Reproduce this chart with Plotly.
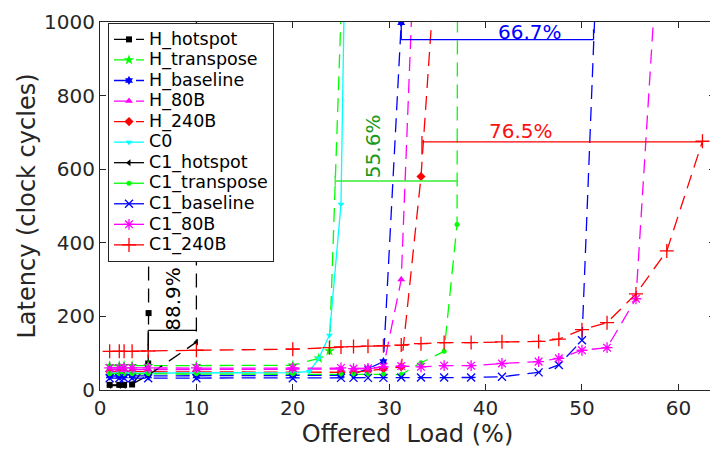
import plotly.graph_objects as go

# ---------------- data ----------------
h_hotspot_x = [1, 2, 2.5, 3.33, 5, 5.04, 5.1]
h_hotspot_y = [14, 14, 14, 15, 72, 209, 4000]

h_transpose_x = [1, 2, 2.5, 3.33, 5, 10, 20, 22.7, 23.8, 25]
h_transpose_y = [66, 66, 66, 66, 66, 66, 67, 86, 106, 1020]

h_baseline_x = [1, 2, 2.5, 3.33, 5, 10, 20, 25, 26.3, 27.8, 29.4, 31.25]
h_baseline_y = [38, 38, 38, 38, 38, 38, 39, 40, 44, 58, 77, 998]

h_80b_x = [1, 2, 2.5, 3.33, 5, 10, 20, 25, 26.3, 27.8, 29.4, 31.25, 33.3]
h_80b_y = [55, 55, 55, 55, 55, 55, 56, 56, 57, 58, 62, 300, 1667]

h_240b_x = [1, 2, 2.5, 3.33, 5, 10, 20, 25, 26.3, 27.8, 29.4, 31.25, 33.3, 35.7]
h_240b_y = [50, 50, 50, 50, 50, 50, 48, 48, 48, 52, 58, 63, 580, 1500]

c0_x = [1, 2, 2.5, 3.33, 5, 10, 20, 21.7, 22.7, 23.8, 25, 26.3]
c0_y = [46, 46, 46, 46, 46, 46, 47, 50, 86, 149, 505, 2650]

c1_hotspot_x = [1, 2, 2.5, 3.33, 5, 10, 10.05]
c1_hotspot_y = [12, 12, 12, 16, 40, 130, 20000]

c1_transpose_x = [1, 2, 2.5, 3.33, 5, 10, 20, 25, 26.3, 27.8, 29.4, 31.25, 33.3, 35.7, 37.04, 38.5]
c1_transpose_y = [44, 44, 44, 44, 44, 44, 44, 43, 43, 43, 43, 42, 74, 105, 450, 20000]

c1_baseline_x = [1, 2, 2.5, 3.33, 5, 10, 20, 25, 26.3, 27.8, 29.4, 31.25, 33.3, 35.7, 38.5, 41.7, 45.5, 47.6, 50, 52.6]
c1_baseline_y = [32, 32, 32, 32, 32, 32, 32, 33, 33, 33, 33, 34, 34, 34, 34, 36, 48, 68, 135, 1864]

c1_80b_x = [1, 2, 2.5, 3.33, 5, 10, 20, 25, 26.3, 27.8, 29.4, 31.25, 33.3, 35.7, 38.5, 41.7, 45.5, 47.6, 50, 52.6, 55.6, 58.8]
c1_80b_y = [60, 60, 60, 60, 60, 60, 60, 60, 58, 59, 63, 65, 63, 66, 66, 72, 77, 86, 108, 115, 248, 1585]

c1_240b_x = [1, 2, 2.5, 3.33, 5, 10, 20, 23.8, 25, 26.3, 27.8, 29.4, 31.25, 33.3, 35.7, 38.5, 41.7, 45.5, 47.6, 50, 52.6, 55.6, 58.8, 62.5]
c1_240b_y = [105, 105, 105, 105, 106, 108, 111, 115, 117, 118, 119, 120, 122, 126, 129, 129, 131, 132, 138, 164, 183, 261, 378, 676]

x_ticks = [0, 10, 20, 30, 40, 50, 60]
y_ticks = [0, 200, 400, 600, 800, 1000]

# improvement brackets
gain_labels = ["66.7%", "55.6%", "76.5%", "88.9%"]
gain_x0 = [31.25, 24.4, 33.4, 5]
gain_x1 = [51.2, 37.04, 62.5, 10]
gain_y = [952, 568, 674, 162]

FONT = "DejaVu Sans"
DASH = "14px,8px"
LEG_TXT = '<span style="font-size:17.5px">{}</span>'

fig = go.Figure()

def add(name, x, y, color, symbol, dash, msize=7, open_marker=False, legend=True):
    marker = dict(symbol=symbol, size=msize, color=color)
    if open_marker:
        marker["line"] = dict(color=color, width=1.3)
    fig.add_trace(go.Scatter(
        x=x, y=y, name=LEG_TXT.format(name), mode="lines+markers",
        line=dict(color=color, width=1.3, dash=dash),
        marker=marker, showlegend=legend, cliponaxis=True))

# H series (dashed)
add("H_hotspot", h_hotspot_x, h_hotspot_y, "#000000", "square", DASH, 6)
add("H_transpose", h_transpose_x, h_transpose_y, "#00ff00", "star", DASH, 8)
add("H_baseline", h_baseline_x, h_baseline_y, "#0000ff", "hexagram", DASH, 7)
add("H_80B", h_80b_x, h_80b_y, "#ff00ff", "triangle-up", DASH, 7)
add("H_240B", h_240b_x, h_240b_y, "#ff0000", "diamond", DASH, 7)
# C0 (solid)
add("C0", c0_x, c0_y, "#00ffff", "triangle-down", "solid", 6)

# C1 series: drawn dashed in the plot, shown solid in the legend
c1 = [
    ("C1_hotspot", c1_hotspot_x, c1_hotspot_y, "#000000", "triangle-left", 6, False),
    ("C1_transpose", c1_transpose_x, c1_transpose_y, "#00ff00", "circle", 5, False),
    ("C1_baseline", c1_baseline_x, c1_baseline_y, "#0000ff", "x-thin", 8, True),
    ("C1_80B", c1_80b_x, c1_80b_y, "#ff00ff", "asterisk", 9, True),
    ("C1_240B", c1_240b_x, c1_240b_y, "#ff0000", "cross-thin", 10, True),
]
for name, x, y, col, sym, ms, op in c1:
    add(name, x, y, col, sym, DASH, ms, op, legend=False)
for name, x, y, col, sym, ms, op in c1:
    add(name, [None], [None], col, sym, "solid", ms, op, legend=True)

# bracket lines marking the improvements
line_cols = ["#0000ff", "#33ee33", "#ff0000", "#000000"]
text_cols = ["#0000ff", "#1a9a1a", "#ff1010", "#000000"]
tick_ranges = [(952, 998, 952, 980), (555, 582, None, None), (640, 690, None, None), (108, 162, None, None)]
text_pos = [(44.6, 973, 0), (28.4, 662, -90), (43.7, 705, 0), (7.62, 249, -90)]
for i in range(4):
    c = line_cols[i]
    fig.add_shape(type="line", x0=gain_x0[i], x1=gain_x1[i], y0=gain_y[i], y1=gain_y[i],
                  line=dict(color=c, width=1.3), layer="above")
    a0, a1, b0, b1 = tick_ranges[i]
    fig.add_shape(type="line", x0=gain_x0[i], x1=gain_x0[i], y0=a0, y1=a1,
                  line=dict(color=c, width=1.3), layer="above")
    if b0 is not None:
        fig.add_shape(type="line", x0=gain_x1[i], x1=gain_x1[i], y0=b0, y1=b1,
                      line=dict(color=c, width=1.3), layer="above")
    tx, ty, ang = text_pos[i]
    fig.add_annotation(x=tx, y=ty, text=gain_labels[i], showarrow=False, textangle=ang,
                       font=dict(family=FONT, size=20, color=text_cols[i]))

axis_common = dict(showline=True, linecolor="#262626", linewidth=1, mirror="ticks",
                   ticks="inside", ticklen=6, tickcolor="#262626", showgrid=False,
                   zeroline=False, tickfont=dict(family=FONT, size=20, color="#262626"))

# the page body adds an 8px offset, so the figure is sized to fit the window
fig.update_layout(
    width=710, height=444,
    margin=dict(l=92, r=2, t=12, b=62),
    paper_bgcolor="white", plot_bgcolor="white",
    font=dict(family=FONT, color="#262626"),
    xaxis=dict(range=[0, 63.8], tickvals=x_ticks,
               title=dict(text="Offered \u00a0Load (%)", font=dict(family=FONT, size=24, color="#262626"), standoff=0),
               **axis_common),
    yaxis=dict(range=[0, 1000], tickvals=y_ticks,
               title=dict(text="Latency (clock cycles)", font=dict(family=FONT, size=24, color="#262626"), standoff=1),
               **axis_common),
    legend=dict(x=0.013, y=0.997, xanchor="left", yanchor="top",
                bgcolor="white", bordercolor="#262626", borderwidth=1,
                font=dict(family=FONT, size=13.5, color="#000000"),
                tracegroupgap=0, itemwidth=30),
    showlegend=True,
)

fig.write_html("out.html")
